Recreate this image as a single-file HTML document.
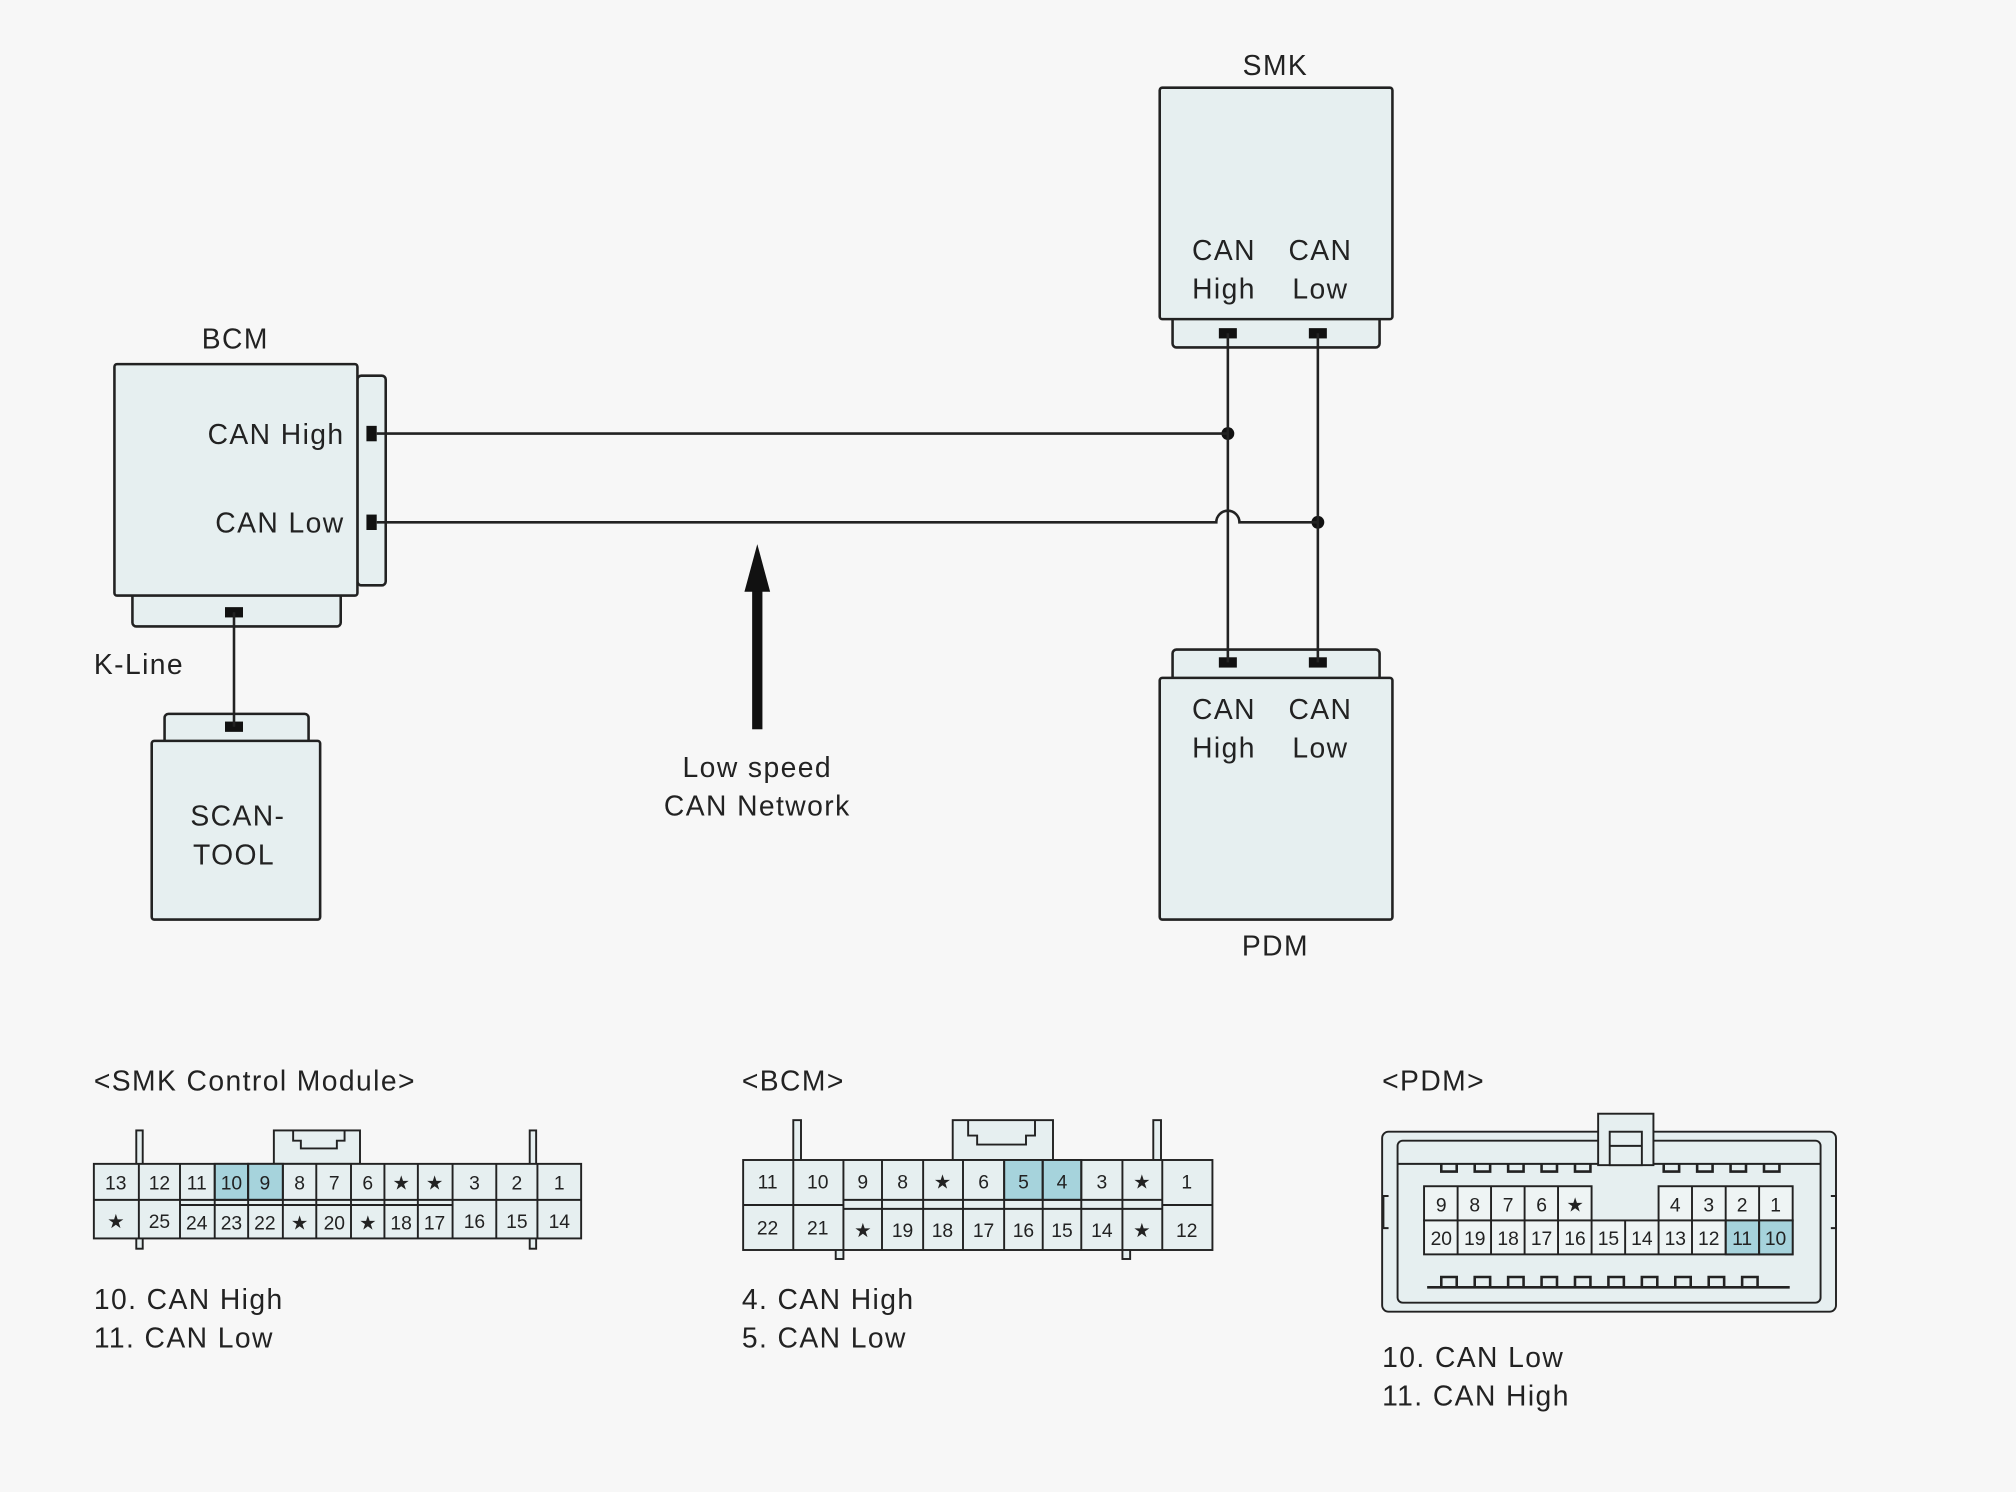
<!DOCTYPE html>
<html><head><meta charset="utf-8"><style>
html,body{margin:0;padding:0;background:#f7f7f7}
svg{display:block}
text{font-family:"Liberation Sans",sans-serif;fill:#222}
.lb text{letter-spacing:1.1px}
</style></head><body>
<svg width="2016" height="1492" viewBox="0 0 1568 1160" xmlns="http://www.w3.org/2000/svg">
<rect width="1568" height="1160" fill="#f7f7f7"/>
<g fill="#e6eff0" stroke="#222" stroke-width="2">
<rect x="278" y="292" width="22" height="163" rx="3"/>
<rect x="103" y="455" width="162" height="32" rx="3"/>
<rect x="89" y="283" width="189" height="180" rx="2"/>
<rect x="912" y="240" width="161" height="30" rx="3"/>
<rect x="902" y="68" width="181" height="180" rx="2"/>
<rect x="912" y="505" width="161" height="30" rx="3"/>
<rect x="902" y="527" width="181" height="188" rx="2"/>
<rect x="128" y="555" width="112" height="30" rx="3"/>
<rect x="118" y="576" width="131" height="139" rx="2"/>
</g>
<g fill="#111">
<rect x="285" y="331" width="8" height="12"/><rect x="285" y="400" width="8" height="12"/>
<rect x="175" y="472" width="14" height="8"/><rect x="175" y="561" width="14" height="8"/>
<rect x="948" y="255" width="14" height="8"/><rect x="1018" y="255" width="14" height="8"/>
<rect x="948" y="511" width="14" height="8"/><rect x="1018" y="511" width="14" height="8"/>
<circle cx="955" cy="337" r="5"/><circle cx="1025" cy="406" r="5"/>
</g>
<g fill="none" stroke="#222" stroke-width="2">
<line x1="293" y1="337" x2="955" y2="337"/>
<path d="M293 406 H946 A9 9 0 0 1 964 406 H1025"/>
<line x1="955" y1="259" x2="955" y2="515"/>
<line x1="1025" y1="259" x2="1025" y2="515"/>
<line x1="182" y1="476" x2="182" y2="565"/>
</g>
<rect x="585" y="455" width="8" height="112" fill="#111"/>
<polygon points="589,423 579,460 599,460" fill="#111"/>
<g font-size="22" class="lb">
<text x="183" y="271" text-anchor="middle">BCM</text>
<text x="268" y="345" text-anchor="end">CAN High</text>
<text x="268" y="414" text-anchor="end">CAN Low</text>
<text x="73" y="524">K-Line</text>
<text x="185" y="642" text-anchor="middle">SCAN-</text>
<text x="182" y="672" text-anchor="middle">TOOL</text>
<text x="992" y="58" text-anchor="middle">SMK</text>
<text x="952" y="202" text-anchor="middle">CAN</text><text x="952" y="232" text-anchor="middle">High</text>
<text x="1027" y="202" text-anchor="middle">CAN</text><text x="1027" y="232" text-anchor="middle">Low</text>
<text x="952" y="559" text-anchor="middle">CAN</text><text x="952" y="589" text-anchor="middle">High</text>
<text x="1027" y="559" text-anchor="middle">CAN</text><text x="1027" y="589" text-anchor="middle">Low</text>
<text x="992" y="743" text-anchor="middle">PDM</text>
<text x="589" y="604" text-anchor="middle">Low speed</text>
<text x="589" y="634" text-anchor="middle">CAN Network</text>
<text x="73" y="848">&lt;SMK Control Module&gt;</text>
<text x="577" y="848">&lt;BCM&gt;</text>
<text x="1075" y="848">&lt;PDM&gt;</text>
<text x="73" y="1018">10. CAN High</text><text x="73" y="1048">11. CAN Low</text>
<text x="577" y="1018">4. CAN High</text><text x="577" y="1048">5. CAN Low</text>
<text x="1075" y="1063">10. CAN Low</text><text x="1075" y="1093">11. CAN High</text>
</g>

<g stroke="#222" stroke-width="1.5" fill="#e6eff0">
<rect x="106" y="879" width="5" height="92"/><rect x="412" y="879" width="5" height="92"/>
<rect x="213" y="879" width="67" height="26"/>
<path d="M228 879 v8 h6 v6 h28 v-6 h6 v-8" fill="none"/>
<rect x="73" y="905" width="379" height="58"/>
</g>
<g stroke="#222" stroke-width="1.5">
<rect x="167" y="905" width="26" height="28" fill="#a6d3dc"/>
<rect x="193" y="905" width="27" height="28" fill="#a6d3dc"/>
<line x1="73" y1="933" x2="452" y2="933"/>
<line x1="140" y1="937" x2="352" y2="937"/>
<line x1="108" y1="905" x2="108" y2="963"/><line x1="140" y1="905" x2="140" y2="963"/><line x1="167" y1="905" x2="167" y2="963"/><line x1="193" y1="905" x2="193" y2="963"/><line x1="220" y1="905" x2="220" y2="963"/><line x1="246" y1="905" x2="246" y2="963"/><line x1="273" y1="905" x2="273" y2="963"/><line x1="299" y1="905" x2="299" y2="963"/><line x1="325" y1="905" x2="325" y2="963"/><line x1="352" y1="905" x2="352" y2="963"/><line x1="386" y1="905" x2="386" y2="963"/><line x1="418" y1="905" x2="418" y2="963"/>
</g>
<g font-size="15" text-anchor="middle">
<text x="90" y="925">13</text><text x="124" y="925">12</text><text x="153" y="925">11</text><text x="180" y="925">10</text><text x="206" y="925">9</text><text x="233" y="925">8</text><text x="260" y="925">7</text><text x="286" y="925">6</text><text x="312" y="925">★</text><text x="338" y="925">★</text><text x="369" y="925">3</text><text x="402" y="925">2</text><text x="435" y="925">1</text>
<text x="90" y="955">★</text><text x="124" y="955">25</text><text x="153" y="956">24</text><text x="180" y="956">23</text><text x="206" y="956">22</text><text x="233" y="956">★</text><text x="260" y="956">20</text><text x="286" y="956">★</text><text x="312" y="956">18</text><text x="338" y="956">17</text><text x="369" y="955">16</text><text x="402" y="955">15</text><text x="435" y="955">14</text>
</g>

<g stroke="#222" stroke-width="1.5" fill="#e6eff0">
<rect x="617" y="871" width="6" height="31"/><rect x="897" y="871" width="6" height="31"/>
<rect x="650" y="971" width="6" height="8"/><rect x="873" y="971" width="6" height="8"/>
<rect x="741" y="871" width="78" height="31"/>
<path d="M753 871 v12 h7 v7 h38 v-7 h7 v-12" fill="none"/>
<rect x="578" y="902" width="365" height="70"/>
</g>
<g stroke="#222" stroke-width="1.5">
<rect x="781" y="902" width="30" height="31" fill="#a6d3dc"/>
<rect x="811" y="902" width="30" height="31" fill="#a6d3dc"/>
<line x1="578" y1="937" x2="656" y2="937"/><line x1="904" y1="937" x2="943" y2="937"/>
<line x1="656" y1="933" x2="904" y2="933"/><line x1="656" y1="940" x2="904" y2="940"/>
<line x1="617" y1="902" x2="617" y2="972"/><line x1="656" y1="902" x2="656" y2="972"/><line x1="686" y1="902" x2="686" y2="972"/><line x1="718" y1="902" x2="718" y2="972"/><line x1="749" y1="902" x2="749" y2="972"/><line x1="781" y1="902" x2="781" y2="972"/><line x1="811" y1="902" x2="811" y2="972"/><line x1="841" y1="902" x2="841" y2="972"/><line x1="873" y1="902" x2="873" y2="972"/><line x1="904" y1="902" x2="904" y2="972"/>
</g>
<g font-size="15" text-anchor="middle">
<text x="597" y="924">11</text><text x="636" y="924">10</text><text x="671" y="924">9</text><text x="702" y="924">8</text><text x="733" y="924">★</text><text x="765" y="924">6</text><text x="796" y="924">5</text><text x="826" y="924">4</text><text x="857" y="924">3</text><text x="888" y="924">★</text><text x="923" y="924">1</text>
<text x="597" y="960">22</text><text x="636" y="960">21</text><text x="671" y="962">★</text><text x="702" y="962">19</text><text x="733" y="962">18</text><text x="765" y="962">17</text><text x="796" y="962">16</text><text x="826" y="962">15</text><text x="857" y="962">14</text><text x="888" y="962">★</text><text x="923" y="962">12</text>
</g>

<g stroke="#222" stroke-width="1.5" fill="#e6eff0">
<rect x="1075" y="880" width="353" height="140" rx="5"/>
<rect x="1087" y="887" width="329" height="126" rx="4"/>
<path d="M1087 905 H1416" fill="none"/>
<rect x="1243" y="866" width="43" height="40"/>
<rect x="1252" y="880" width="25" height="26"/>
<line x1="1252" y1="891" x2="1277" y2="891"/>
<path d="M1080 930 h-4 v25 h4 M1424 930 h4 v25 h-4" fill="none"/>
</g>
<g stroke="#222" stroke-width="2" fill="none">
<path d="M1121 905 v6 h12 v-6 M1147 905 v6 h12 v-6 M1173 905 v6 h12 v-6 M1199 905 v6 h12 v-6 M1225 905 v6 h12 v-6 M1294 905 v6 h12 v-6 M1320 905 v6 h12 v-6 M1346 905 v6 h12 v-6 M1372 905 v6 h12 v-6"/>
<path d="M1121 1001 v-8 h12 v8 M1147 1001 v-8 h12 v8 M1173 1001 v-8 h12 v8 M1199 1001 v-8 h12 v8 M1225 1001 v-8 h12 v8 M1251 1001 v-8 h12 v8 M1277 1001 v-8 h12 v8 M1303 1001 v-8 h12 v8 M1329 1001 v-8 h12 v8 M1355 1001 v-8 h12 v8"/>
<line x1="1110" y1="1001" x2="1392" y2="1001"/>
</g>
<g stroke="#222" stroke-width="1.5" fill="#eef4f4">
<rect x="1107.6" y="922.4" width="130.3" height="26.6"/>
<rect x="1290" y="922.4" width="104.3" height="26.6"/>
<rect x="1107.6" y="949" width="286.7" height="26.4"/>
<rect x="1342.2" y="949" width="26" height="26.4" fill="#a6d3dc"/>
<rect x="1368.2" y="949" width="26.1" height="26.4" fill="#a6d3dc"/>
</g>
<g stroke="#222" stroke-width="1.5">
<line x1="1133.7" y1="922" x2="1133.7" y2="975"/><line x1="1159.7" y1="922" x2="1159.7" y2="975"/><line x1="1185.8" y1="922" x2="1185.8" y2="975"/><line x1="1211.8" y1="922" x2="1211.8" y2="975"/><line x1="1237.9" y1="949" x2="1237.9" y2="975"/><line x1="1264" y1="949" x2="1264" y2="975"/><line x1="1316" y1="922" x2="1316" y2="975"/><line x1="1342.2" y1="922" x2="1342.2" y2="975"/><line x1="1368.2" y1="922" x2="1368.2" y2="975"/><line x1="1290" y1="949" x2="1290" y2="975"/>
</g>
<g font-size="15" text-anchor="middle">
<text x="1121" y="942">9</text><text x="1147" y="942">8</text><text x="1173" y="942">7</text><text x="1199" y="942">6</text><text x="1225" y="942">★</text><text x="1303" y="942">4</text><text x="1329" y="942">3</text><text x="1355" y="942">2</text><text x="1381" y="942">1</text>
<text x="1121" y="968">20</text><text x="1147" y="968">19</text><text x="1173" y="968">18</text><text x="1199" y="968">17</text><text x="1225" y="968">16</text><text x="1251" y="968">15</text><text x="1277" y="968">14</text><text x="1303" y="968">13</text><text x="1329" y="968">12</text><text x="1355" y="968">11</text><text x="1381" y="968">10</text>
</g>
</svg>
</body></html>
